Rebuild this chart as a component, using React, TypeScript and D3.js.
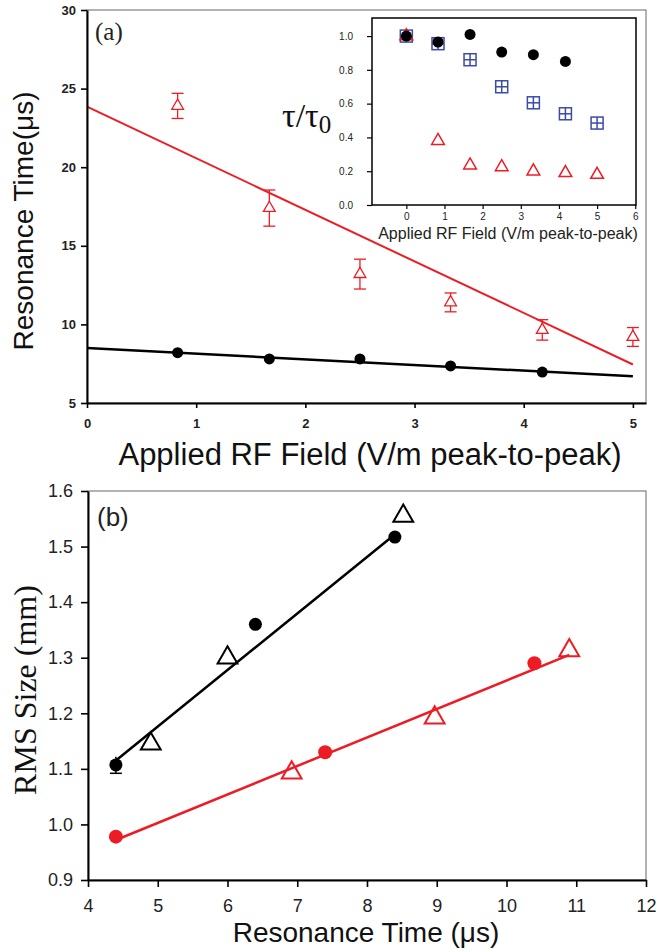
import { useRef, useEffect } from 'react';
import * as d3 from 'd3';

// panel (a): resonance time vs applied RF field
const fieldRed = [0.83, 1.67, 2.5, 3.33, 4.17, 5.0];
const timeRed = [23.9, 17.4, 13.2, 11.4, 9.65, 9.2];
const errRed = [0.8, 1.15, 0.95, 0.6, 0.65, 0.6];
const fieldBlack = [0.83, 1.67, 2.5, 3.33, 4.17];
const timeBlack = [8.2, 7.8, 7.8, 7.36, 6.97];
const fitRedA: [number, number][] = [[0, 23.85], [5, 7.45]];
const fitBlackA: [number, number][] = [[0, 8.5], [5, 6.7]];
const xTicksA = [0, 1, 2, 3, 4, 5];
const yTicksA = [5, 10, 15, 20, 25, 30];

// inset: tau / tau0
const insetField = [0, 0.83, 1.67, 2.5, 3.33, 4.17, 5.0];
const insetBlack = [1.0, 0.965, 1.01, 0.905, 0.89, 0.85];
const insetBlue = [1.0, 0.955, 0.86, 0.7, 0.605, 0.54, 0.485];
const insetRed = [1.0, 0.38, 0.235, 0.225, 0.2, 0.19, 0.18];
const insetXTicks = [0, 1, 2, 3, 4, 5, 6];
const insetYTicks = [0, 0.2, 0.4, 0.6, 0.8, 1.0];

// panel (b): RMS size vs resonance time
const timeBlackCirc = [4.4, 6.4, 8.4];
const sizeBlackCirc = [1.107, 1.36, 1.517];
const errBlackCirc = [0.015, 0, 0];
const timeBlackTri = [4.9, 6.0, 8.52];
const sizeBlackTri = [1.145, 1.3, 1.555];
const timeRedCirc = [4.4, 7.4, 10.4];
const sizeRedCirc = [0.978, 1.13, 1.29];
const timeRedTri = [6.92, 8.97, 10.9];
const sizeRedTri = [1.093, 1.192, 1.313];
const fitBlackB: [number, number][] = [[4.4, 1.115], [8.38, 1.52]];
const fitRedB: [number, number][] = [[4.4, 0.972], [10.9, 1.305]];
const xTicksB = [4, 5, 6, 7, 8, 9, 10, 11, 12];
const yTicksB = [0.9, 1.0, 1.1, 1.2, 1.3, 1.4, 1.5, 1.6];

const RED = '#ed1c24';
const BLUE = '#3b4ba8';
const SANS = '"Liberation Sans", Arial, sans-serif';
const SERIF = '"Liberation Serif", "Times New Roman", serif';

const App = () => {
  const svgRef = useRef<SVGSVGElement>(null);

  useEffect(() => {
    const svg = d3.select(svgRef.current);
    svg.selectAll('*').remove();

    const styleAxis = (g: any, size: number, weight: string, sw: number) => {
      g.select('.domain').attr('stroke', '#000').attr('stroke-width', sw);
      g.selectAll('.tick line').attr('stroke', '#000').attr('stroke-width', sw * 0.8);
      g.selectAll('.tick text')
        .attr('fill', '#222')
        .style('font-family', SANS)
        .style('font-size', `${size}px`)
        .style('font-weight', weight);
    };
    const intFmt = d3.format('d');

    // ---------- panel (a) ----------
    const xA = d3.scaleLinear().domain([0, 5.12]).range([87, 646]);
    const yA = d3.scaleLinear().domain([5, 30]).range([403, 10]);

    svg.append('rect')
      .attr('x', 87).attr('y', 10)
      .attr('width', 646 - 87).attr('height', 403 - 10)
      .attr('fill', 'none').attr('stroke', '#666').attr('stroke-width', 1);

    const lineA = d3.line<[number, number]>().x(d => xA(d[0])).y(d => yA(d[1]));
    svg.append('path').attr('d', lineA(fitRedA)).attr('stroke', RED).attr('stroke-width', 2).attr('fill', 'none');
    svg.append('path').attr('d', lineA(fitBlackA)).attr('stroke', '#000').attr('stroke-width', 2.5).attr('fill', 'none');

    const gxA = svg.append('g').attr('transform', 'translate(0,403)')
      .call(d3.axisBottom(xA).tickValues(xTicksA).tickFormat(intFmt).tickSize(5).tickPadding(11).tickSizeOuter(0));
    styleAxis(gxA, 13, 'bold', 2);
    const gyA = svg.append('g').attr('transform', 'translate(87,0)')
      .call(d3.axisLeft(yA).tickValues(yTicksA).tickFormat(intFmt).tickSize(6).tickPadding(5).tickSizeOuter(0));
    styleAxis(gyA, 13, 'bold', 2);

    // red error bars + triangles
    const errG = svg.append('g').attr('stroke', RED).attr('stroke-width', 1.3).attr('fill', 'none');
    fieldRed.forEach((f, i) => {
      const x = xA(f);
      const y0 = yA(timeRed[i] - errRed[i]);
      const y1 = yA(timeRed[i] + errRed[i]);
      errG.append('line').attr('x1', x).attr('x2', x).attr('y1', y0).attr('y2', y1);
      errG.append('line').attr('x1', x - 6).attr('x2', x + 6).attr('y1', y0).attr('y2', y0);
      errG.append('line').attr('x1', x - 6).attr('x2', x + 6).attr('y1', y1).attr('y2', y1);
      errG.append('path')
        .attr('d', d3.symbol(d3.symbolTriangle, 60)())
        .attr('transform', `translate(${x},${yA(timeRed[i])})`)
        .attr('fill', '#fff');
    });

    svg.append('g').selectAll('circle')
      .data(fieldBlack)
      .join('circle')
      .attr('cx', d => xA(d))
      .attr('cy', (d, i) => yA(timeBlack[i]))
      .attr('r', 5.5)
      .attr('fill', '#000');

    svg.append('text').text('(a)')
      .attr('x', 95).attr('y', 40)
      .style('font-family', SERIF).style('font-size', '25px').attr('fill', '#222');

    svg.append('text').text('Resonance Time(μs)')
      .attr('transform', 'translate(33,221) rotate(-90)')
      .attr('text-anchor', 'middle')
      .style('font-family', SANS).style('font-size', '28px').attr('fill', '#111');

    svg.append('text').text('Applied RF Field (V/m peak-to-peak)')
      .attr('x', 370).attr('y', 465)
      .attr('text-anchor', 'middle')
      .style('font-family', SANS).style('font-size', '31px').attr('fill', '#111');

    // ---------- inset ----------
    const xI = d3.scaleLinear().domain([-0.9, 6.02]).range([372, 636]);
    const yI = d3.scaleLinear().domain([0, 1.107]).range([205, 18]);

    svg.append('rect')
      .attr('x', 372).attr('y', 18)
      .attr('width', 636 - 372).attr('height', 205 - 18)
      .attr('fill', '#fff').attr('stroke', '#000').attr('stroke-width', 1.5);

    const gxI = svg.append('g').attr('transform', 'translate(0,205)')
      .call(d3.axisBottom(xI).tickValues(insetXTicks).tickFormat(intFmt).tickSize(4).tickPadding(4).tickSizeOuter(0));
    styleAxis(gxI, 10, 'normal', 1.5);
    gxI.select('.domain').remove();
    const gyI = svg.append('g').attr('transform', 'translate(372,0)')
      .call(d3.axisLeft(yI).tickValues(insetYTicks).tickFormat(d3.format('.1f')).tickSize(5).tickPadding(14).tickSizeOuter(0));
    styleAxis(gyI, 10, 'normal', 1.5);
    gyI.select('.domain').remove();

    const blueG = svg.append('g').attr('stroke', BLUE).attr('stroke-width', 1.5).attr('fill', 'none');
    insetBlue.forEach((v, i) => {
      const x = xI(insetField[i]);
      const y = yI(v);
      blueG.append('rect').attr('x', x - 6).attr('y', y - 6).attr('width', 12).attr('height', 12);
      blueG.append('line').attr('x1', x).attr('x2', x).attr('y1', y - 6).attr('y2', y + 6);
      blueG.append('line').attr('x1', x - 6).attr('x2', x + 6).attr('y1', y).attr('y2', y);
    });

    svg.append('g').selectAll('path')
      .data(insetRed)
      .join('path')
      .attr('d', d3.symbol(d3.symbolTriangle, 70)())
      .attr('transform', (d, i) => `translate(${xI(insetField[i])},${yI(d)})`)
      .attr('fill', 'none').attr('stroke', RED).attr('stroke-width', 1.5);

    svg.append('g').selectAll('circle')
      .data(insetBlack)
      .join('circle')
      .attr('cx', (d, i) => xI(insetField[i]))
      .attr('cy', d => yI(d))
      .attr('r', 5.5)
      .attr('fill', '#000');

    svg.append('text').text('Applied RF Field (V/m peak-to-peak)')
      .attr('x', 508).attr('y', 239)
      .attr('text-anchor', 'middle')
      .style('font-family', SANS).style('font-size', '16px').attr('fill', '#222');

    const tau = svg.append('text')
      .attr('x', 282).attr('y', 127)
      .style('font-family', SERIF).style('font-size', '34px').attr('fill', '#111');
    tau.append('tspan').text('τ/τ');
    tau.append('tspan').text('0').attr('dy', 6).style('font-size', '25px');

    // ---------- panel (b) ----------
    const xB = d3.scaleLinear().domain([4, 12]).range([88, 646]);
    const yB = d3.scaleLinear().domain([0.9, 1.6]).range([880, 491]);

    svg.append('rect')
      .attr('x', 88).attr('y', 491)
      .attr('width', 646 - 88).attr('height', 880 - 491)
      .attr('fill', 'none').attr('stroke', '#666').attr('stroke-width', 1);

    const lineB = d3.line<[number, number]>().x(d => xB(d[0])).y(d => yB(d[1]));
    svg.append('path').attr('d', lineB(fitBlackB)).attr('stroke', '#000').attr('stroke-width', 2.5).attr('fill', 'none');
    svg.append('path').attr('d', lineB(fitRedB)).attr('stroke', RED).attr('stroke-width', 2.5).attr('fill', 'none');

    const gxB = svg.append('g').attr('transform', 'translate(0,880)')
      .call(d3.axisBottom(xB).tickValues(xTicksB).tickFormat(intFmt).tickSize(7).tickPadding(12).tickSizeOuter(0));
    styleAxis(gxB, 18, 'normal', 2);
    const gyB = svg.append('g').attr('transform', 'translate(88,0)')
      .call(d3.axisLeft(yB).tickValues(yTicksB).tickFormat(d3.format('.1f')).tickSize(7).tickPadding(8).tickSizeOuter(0));
    styleAxis(gyB, 18, 'normal', 2);

    // error bars on black circles
    const errB = svg.append('g').attr('stroke', '#000').attr('stroke-width', 1.5);
    timeBlackCirc.forEach((t, i) => {
      if (!errBlackCirc[i]) return;
      const x = xB(t);
      const y0 = yB(sizeBlackCirc[i] - errBlackCirc[i]);
      const y1 = yB(sizeBlackCirc[i] + errBlackCirc[i]);
      errB.append('line').attr('x1', x).attr('x2', x).attr('y1', y0).attr('y2', y1);
      errB.append('line').attr('x1', x - 6).attr('x2', x + 6).attr('y1', y0).attr('y2', y0);
    });

    svg.append('g').selectAll('circle')
      .data(timeBlackCirc)
      .join('circle')
      .attr('cx', d => xB(d))
      .attr('cy', (d, i) => yB(sizeBlackCirc[i]))
      .attr('r', 6.5)
      .attr('fill', '#000');

    svg.append('g').selectAll('circle')
      .data(timeRedCirc)
      .join('circle')
      .attr('cx', d => xB(d))
      .attr('cy', (d, i) => yB(sizeRedCirc[i]))
      .attr('r', 7)
      .attr('fill', RED);

    svg.append('g').selectAll('path')
      .data(timeBlackTri)
      .join('path')
      .attr('d', d3.symbol(d3.symbolTriangle, 170)())
      .attr('transform', (d, i) => `translate(${xB(d)},${yB(sizeBlackTri[i])})`)
      .attr('fill', 'none').attr('stroke', '#000').attr('stroke-width', 2);

    svg.append('g').selectAll('path')
      .data(timeRedTri)
      .join('path')
      .attr('d', d3.symbol(d3.symbolTriangle, 170)())
      .attr('transform', (d, i) => `translate(${xB(d)},${yB(sizeRedTri[i])})`)
      .attr('fill', 'none').attr('stroke', RED).attr('stroke-width', 2);

    svg.append('text').text('(b)')
      .attr('x', 97).attr('y', 526)
      .style('font-family', SANS).style('font-size', '26px').attr('fill', '#222');

    svg.append('text').text('RMS Size (mm)')
      .attr('transform', 'translate(36,690) rotate(-90)')
      .attr('text-anchor', 'middle')
      .style('font-family', SERIF).style('font-size', '32px').attr('fill', '#111');

    svg.append('text').text('Resonance Time (μs)')
      .attr('x', 366).attr('y', 942)
      .attr('text-anchor', 'middle')
      .style('font-family', SANS).style('font-size', '28px').attr('fill', '#111');
  }, []);

  return (
    <svg
      ref={svgRef}
      width={659}
      height={952}
      style={{ position: 'absolute', left: 0, top: 0, background: '#fff' }}
    />
  );
};

export default App;
